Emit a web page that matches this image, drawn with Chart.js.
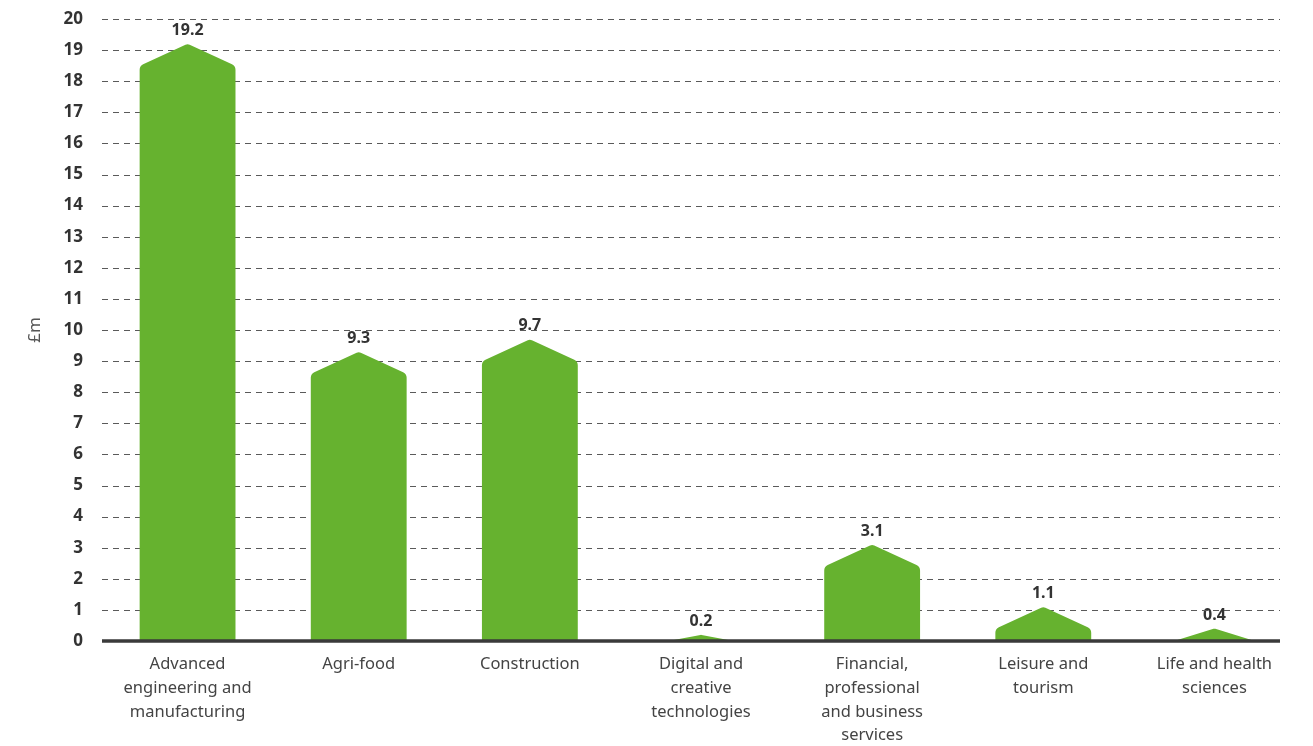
<!DOCTYPE html>
<html>
<head>
<meta charset="utf-8">
<script src="https://cdn.jsdelivr.net/npm/chart.js@4/dist/chart.umd.min.js"></script>
<style>
  html, body { margin: 0; padding: 0; background: #fff; }
  #wrap { width: 1313px; height: 746px; }
</style>
</head>
<body>
<div id="wrap"><canvas id="chart"></canvas></div>
<script>
const categories = [
    ['Advanced', 'engineering and', 'manufacturing'],
    ['Agri-food'],
    ['Construction'],
    ['Digital and', 'creative', 'technologies'],
    ['Financial,', 'professional', 'and business', 'services'],
    ['Leisure and', 'tourism'],
    ['Life and health', 'sciences']
];
const values = [19.2, 9.3, 9.7, 0.2, 3.1, 1.1, 0.4];
const valueLabels = ['19.2', '9.3', '9.7', '0.2', '3.1', '1.1', '0.4'];
const yMin = 0, yMax = 20, yStep = 1;
const yTitle = '£m';

const GREEN = '#66b22f';
const FONT = '"Noto Sans", "Open Sans", sans-serif';
const ROOF = 22;       // px height of the pointed top
const GRID_RIGHT = 1280;

function drawHouse(ctx, cx, top, base, w) {
    const h = base - top;
    const half = w / 2;
    ctx.beginPath();
    if (h > ROOF) {
        const sh = top + ROOF;
        ctx.moveTo(cx - half, base);
        ctx.arcTo(cx - half, sh, cx, top, 6);
        ctx.arcTo(cx, top, cx + half, sh, 5);
        ctx.arcTo(cx + half, sh, cx + half, base, 6);
        ctx.lineTo(cx + half, base);
    } else {
        const hw = half * Math.pow(h / ROOF, 0.35);
        ctx.moveTo(cx - hw, base);
        ctx.arcTo(cx, top, cx + hw, base, 3);
        ctx.lineTo(cx + hw, base);
    }
    ctx.closePath();
    ctx.fill();
}

const houseBars = {
    id: 'houseBars',
    afterDatasetsDraw(chart) {
        const { ctx, chartArea, scales: { y } } = chart;
        const meta = chart.getDatasetMeta(0);
        ctx.save();

        // value labels (grid lines pass over them, like the original)
        ctx.fillStyle = '#333';
        ctx.font = 'bold 16px ' + FONT;
        ctx.textAlign = 'center';
        ctx.textBaseline = 'alphabetic';
        meta.data.forEach((bar, i) => {
            ctx.fillText(valueLabels[i], bar.x, bar.y - 9);
        });

        // dashed grid
        ctx.strokeStyle = '#5a5a5a';
        ctx.lineWidth = 1;
        ctx.setLineDash([6, 5]);
        for (let v = yMin + yStep; v <= yMax; v += yStep) {
            const py = Math.round(y.getPixelForValue(v)) + 0.5;
            ctx.beginPath();
            ctx.moveTo(chartArea.left, py);
            ctx.lineTo(GRID_RIGHT, py);
            ctx.stroke();
        }
        ctx.setLineDash([]);

        // bars
        ctx.fillStyle = GREEN;
        meta.data.forEach(bar => drawHouse(ctx, bar.x, bar.y, bar.base, bar.width));

        // zero axis
        const y0 = y.getPixelForValue(0);
        ctx.strokeStyle = '#3a3a3a';
        ctx.lineWidth = 3.5;
        ctx.beginPath();
        ctx.moveTo(chartArea.left, y0);
        ctx.lineTo(GRID_RIGHT, y0);
        ctx.stroke();

        ctx.restore();
    }
};

new Chart(document.getElementById('chart'), {
    type: 'bar',
    data: {
        labels: categories,
        datasets: [{
            data: values,
            backgroundColor: 'rgba(0,0,0,0)',
            borderWidth: 0,
            barPercentage: 0.56,
            categoryPercentage: 1
        }]
    },
    options: {
        responsive: true,
        maintainAspectRatio: false,
        animation: false,
        events: [],
        layout: { padding: { top: 19, right: 13, left: 0, bottom: 0 } },
        plugins: {
            legend: { display: false },
            tooltip: { enabled: false }
        },
        scales: {
            x: {
                grid: { display: false, drawTicks: false },
                border: { display: false },
                ticks: {
                    autoSkip: false,
                    maxRotation: 0,
                    minRotation: 0,
                    padding: 11,
                    color: '#444',
                    font: { family: FONT, size: 16.5, lineHeight: 1.45 }
                },
                afterFit: scale => { scale.height = 105; }
            },
            y: {
                min: yMin,
                max: yMax,
                grid: {
                    display: true,
                    drawOnChartArea: false,
                    drawTicks: true,
                    tickLength: 19,
                    color: 'rgba(0,0,0,0)'
                },
                border: { display: false },
                ticks: {
                    stepSize: yStep,
                    padding: 0,
                    color: '#333',
                    font: { family: FONT, size: 17, weight: 'bold' }
                },
                title: {
                    display: true,
                    text: yTitle,
                    color: '#555',
                    padding: { top: 25, bottom: 0 },
                    font: { family: FONT, size: 17 }
                },
                afterFit: scale => { scale.width = 102; }
            }
        }
    },
    plugins: [houseBars]
});
</script>
</body>
</html>
